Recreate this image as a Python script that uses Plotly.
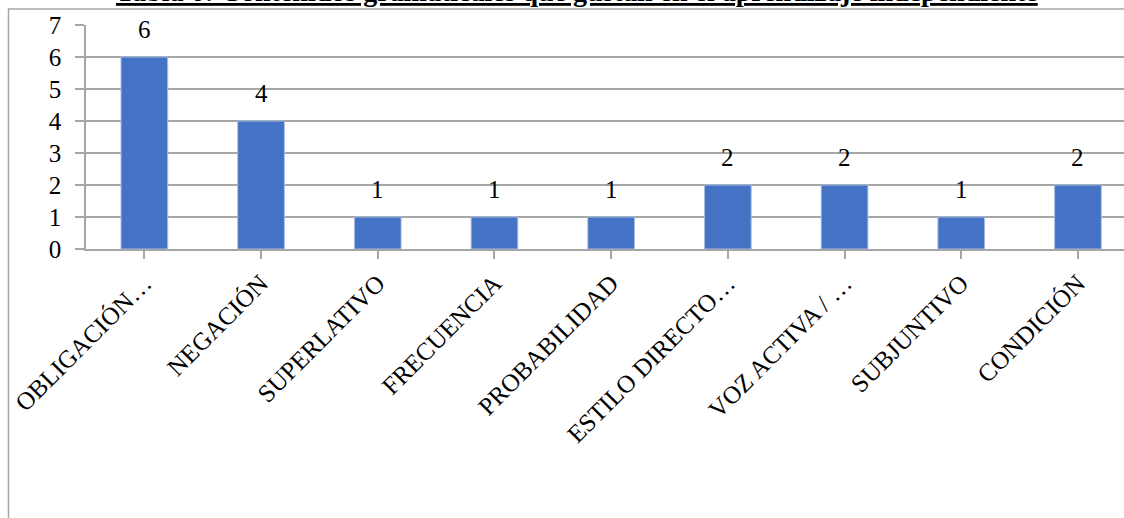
import plotly.graph_objects as go

# Grammar topics and counts
categorias = ["OBLIGACIÓN…", "NEGACIÓN", "SUPERLATIVO", "FRECUENCIA", "PROBABILIDAD",
              "ESTILO DIRECTO…", "VOZ ACTIVA / …", "SUBJUNTIVO", "CONDICIÓN"]
valores = [6, 4, 1, 1, 1, 2, 2, 1, 2]
y_ticks = [0, 1, 2, 3, 4, 5, 6, 7]
titulo = "Tabla 6: Contenidos gramaticales que gustan en el aprendizaje independiente"

FONT = "Liberation Serif"
GRID = "#a6a6a6"

W, H = 1124, 518
L, T, B = 86, 24.5, 268.5
plot_w = W - L
plot_h = H - T - B


def px_x(px):
    return (px - L) / plot_w


def px_y(py):
    return (H - B - py) / plot_h


fig = go.Figure(go.Bar(
    x=list(range(len(categorias))),
    y=valores,
    marker=dict(color="#4472C4", line=dict(color="#a9bce3", width=1)),
    width=0.4,
    hoverinfo="skip",
))

# value labels above each bar
for i, v in enumerate(valores):
    fig.add_annotation(x=i, y=v, text=str(v), showarrow=False, xref="x", yref="y",
                       yanchor="bottom", yshift=12,
                       font=dict(family=FONT, size=25, color="#000000"))

# chart frame
fig.add_shape(type="rect", xref="paper", yref="paper",
              x0=px_x(8.5), x1=px_x(W + 20), y0=px_y(H + 20), y1=px_y(8.5),
              line=dict(color="#a6a6a6", width=1.5), layer="below")

# title (sits above the frame, mostly outside the page)
fig.add_annotation(xref="paper", yref="paper", x=px_x(577), y=px_y(8),
                   xanchor="center", yanchor="bottom", showarrow=False,
                   text="<b><u>" + titulo + "</u></b>",
                   font=dict(family=FONT, size=28, color="#000000"))

fig.update_layout(
    width=W, height=H,
    margin=dict(l=L, r=0, t=T, b=B, pad=0),
    paper_bgcolor="white", plot_bgcolor="white",
    showlegend=False,
    font=dict(family=FONT, color="#000000"),
    xaxis=dict(
        range=[-0.5, -0.5 + plot_w / 116.7],
        tickmode="array",
        tickvals=list(range(len(categorias))),
        ticktext=categorias,
        tickangle=-45,
        tickson="boundaries",
        ticks="outside", ticklen=8, tickcolor=GRID, tickwidth=1.5,
        showline=True, linecolor=GRID, linewidth=1.5,
        showgrid=False, zeroline=False,
        tickfont=dict(family=FONT, size=25, color="#000000"),
        fixedrange=True,
    ),
    yaxis=dict(
        range=[0, 7],
        tickmode="array", tickvals=y_ticks,
        ticks="outside", ticklen=9, tickcolor=GRID, tickwidth=1.5,
        ticklabelstandoff=9,
        showline=True, linecolor=GRID, linewidth=1.5,
        showgrid=True, gridcolor=GRID, gridwidth=1.5,
        zeroline=False,
        tickfont=dict(family=FONT, size=25, color="#000000"),
        fixedrange=True,
    ),
)

fig.write_html("out.html", config={"displayModeBar": False})
